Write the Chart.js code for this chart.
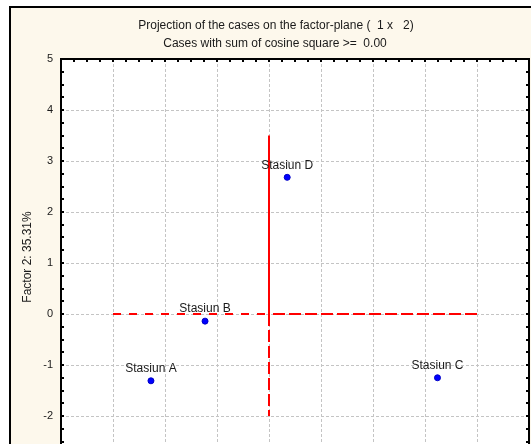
<!DOCTYPE html>
<html>
<head>
<meta charset="utf-8">
<script src="https://cdn.jsdelivr.net/npm/chart.js@4.4.1/dist/chart.umd.min.js"></script>
<style>
  html, body { margin: 0; padding: 0; background: #ffffff; overflow: hidden; width: 531px; height: 444px; }
  canvas { display: block; }
</style>
</head>
<body>
<canvas id="chart" width="550" height="540"></canvas>
<script>
// Case coordinates on the first two factors
const caseNames = ['Stasiun A', 'Stasiun B', 'Stasiun C', 'Stasiun D'];
const factor1 = [-2.27, -1.23, 3.24, 0.35];
const factor2 = [-1.31, -0.14, -1.25, 2.68];

// Axis ranges and tick spacing
const xRange = [-4, 5];
const yRange = [-4, 5];
const tickStep = 1;
const minorStep = 0.25;

// Texts
const titleLines = [
  'Projection of the cases on the factor-plane (  1 x   2)',
  'Cases with sum of cosine square >=  0.00'
];
const yAxisTitle = 'Factor 2: 35.31%';

// Origin cross-hair segments (x, y pairs)
const crossLeftX = [-3, 0],  crossLeftY = [0, 0];
const crossRightX = [0, 4],  crossRightY = [0, 0];
const crossUpX = [0, 0],     crossUpY = [0, 3.5];
const crossDownX = [0, 0],   crossDownY = [0, -2];

const FONT = "'Liberation Sans', Arial, sans-serif";
const CREAM = '#fdf8ec';
const RED = '#ff0000';

function pairs(xs, ys) { return xs.map((x, i) => ({ x: x, y: ys[i] })); }

const casePoints = factor1.map((x, i) => ({ x: x, y: factor2[i], name: caseNames[i] }));

function segment(xs, ys, dash, offset) {
  return {
    type: 'line',
    data: pairs(xs, ys),
    showLine: true,
    borderColor: RED,
    borderWidth: 2,
    borderDash: dash,
    borderDashOffset: offset || 0,
    pointRadius: 0,
    pointHoverRadius: 0,
    fill: false,
    tension: 0
  };
}

// Cream panel with black frame, titles and rotated axis title
const panelPlugin = {
  id: 'panel',
  beforeDraw(chart) {
    const ctx = chart.ctx;
    const { left, top, right, bottom } = chart.chartArea;
    ctx.save();
    ctx.fillStyle = '#ffffff';
    ctx.fillRect(0, 0, chart.width, chart.height);
    ctx.fillStyle = CREAM;
    ctx.fillRect(10, 7, chart.width - 19, chart.height - 7);
    ctx.strokeStyle = '#000000';
    ctx.lineWidth = 2;
    ctx.strokeRect(10, 7, chart.width - 19, chart.height + 10);
    ctx.fillStyle = '#ffffff';
    ctx.fillRect(left, top, right - left, bottom - top);

    ctx.fillStyle = '#1a1a1a';
    ctx.font = '12px ' + FONT;
    ctx.textAlign = 'center';
    ctx.textBaseline = 'middle';
    ctx.fillText(titleLines[0], 276, 26);
    ctx.fillText(titleLines[1], 275, 44);

    ctx.translate(28, 257);
    ctx.rotate(-Math.PI / 2);
    ctx.fillText(yAxisTitle, 0, 0);
    ctx.restore();
  },
  afterDatasetsDraw(chart) {
    const ctx = chart.ctx;
    const xs = chart.scales.x, ys = chart.scales.y;
    ctx.save();
    ctx.fillStyle = '#1a1a1a';
    ctx.font = '12px ' + FONT;
    ctx.textAlign = 'center';
    ctx.textBaseline = 'middle';
    casePoints.forEach(p => {
      ctx.fillText(p.name, xs.getPixelForValue(p.x), ys.getPixelForValue(p.y) - 12);
    });
    ctx.restore();
  },
  afterDraw(chart) {
    const ctx = chart.ctx;
    const { left, top, right, bottom } = chart.chartArea;
    const xs = chart.scales.x, ys = chart.scales.y;
    ctx.save();
    ctx.strokeStyle = '#000000';
    ctx.lineWidth = 2;
    ctx.strokeRect(left, top, right - left, bottom - top);
    // inward minor ticks on every side
    ctx.beginPath();
    for (let v = xRange[0] + minorStep; v < xRange[1] - 1e-9; v += minorStep) {
      const px = Math.round(xs.getPixelForValue(v));
      ctx.moveTo(px, top); ctx.lineTo(px, top + 3);
      ctx.moveTo(px, bottom); ctx.lineTo(px, bottom - 3);
    }
    for (let v = yRange[0] + minorStep; v < yRange[1] - 1e-9; v += minorStep) {
      const py = Math.round(ys.getPixelForValue(v));
      ctx.moveTo(left, py); ctx.lineTo(left + 3, py);
      ctx.moveTo(right, py); ctx.lineTo(right - 3, py);
    }
    ctx.stroke();
    ctx.restore();
  }
};

new Chart(document.getElementById('chart'), {
  type: 'scatter',
  data: {
    datasets: [
      {
        data: casePoints,
        pointRadius: 3,
        pointBackgroundColor: '#0000ff',
        pointBorderColor: '#0000c8',
        pointBorderWidth: 1,
        showLine: false
      },
      segment(crossUpX, crossUpY, [], 0),
      segment(crossDownX, crossDownY, [12, 4], 0),
      segment(crossRightX, crossRightY, [12, 4], 12),
      segment(crossLeftX, crossLeftY, [8, 8], 0)
    ]
  },
  options: {
    responsive: false,
    devicePixelRatio: 1,
    animation: false,
    layout: { padding: { left: 9, top: 59, right: 21, bottom: 0 } },
    plugins: {
      legend: { display: false },
      title: { display: false },
      tooltip: { enabled: false }
    },
    scales: {
      x: {
        type: 'linear',
        min: xRange[0], max: xRange[1],
        ticks: { stepSize: tickStep, color: '#1a1a1a', font: { family: FONT, size: 11 }, padding: 8 },
        grid: { color: '#c4c4c4', lineWidth: 1, drawTicks: false },
        border: { display: false, dash: [3, 2] },
        afterFit(scale) { scale.height = 22; }
      },
      y: {
        type: 'linear',
        min: yRange[0], max: yRange[1],
        ticks: { stepSize: tickStep, color: '#1a1a1a', font: { family: FONT, size: 11 }, padding: 8 },
        grid: { color: '#c4c4c4', lineWidth: 1, drawTicks: false },
        border: { display: false, dash: [3, 2] },
        afterFit(scale) { scale.width = 52; }
      }
    }
  },
  plugins: [panelPlugin]
});
</script>
</body>
</html>
